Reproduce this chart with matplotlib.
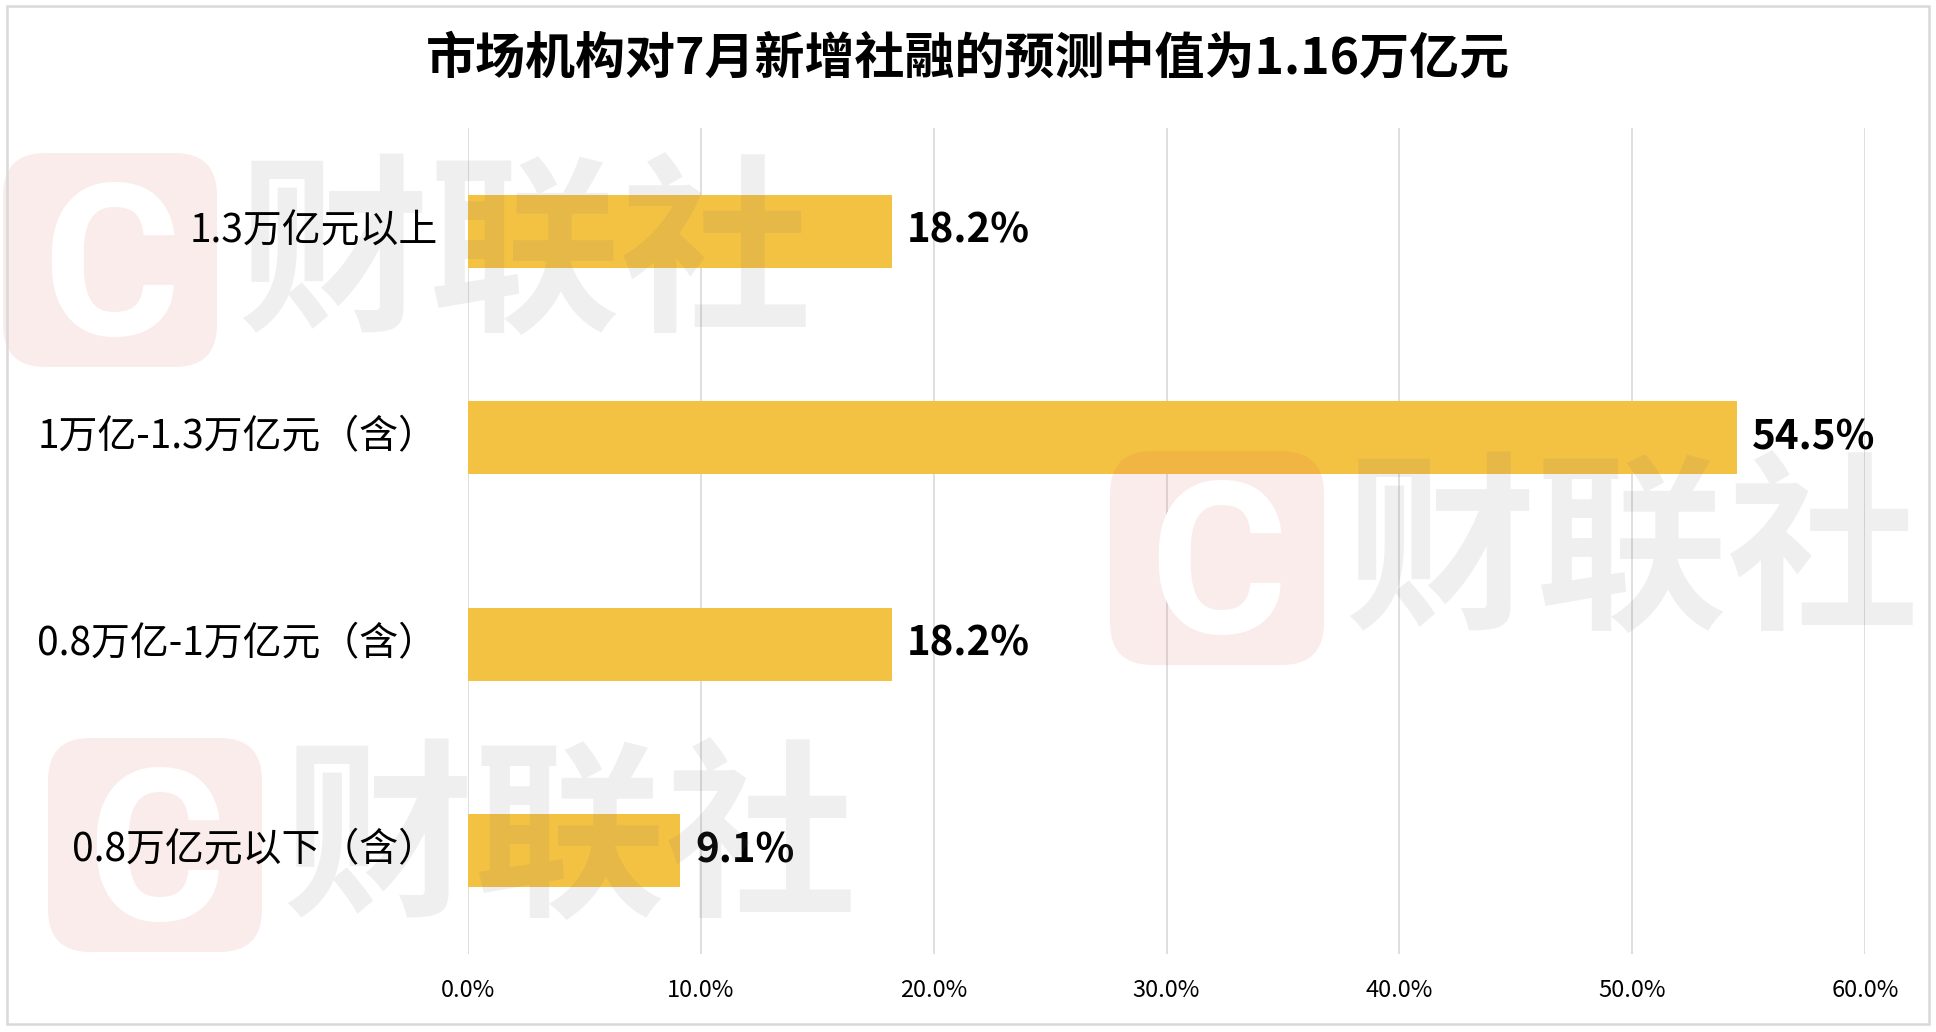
import matplotlib.pyplot as plt
from matplotlib.patches import FancyBboxPatch, Rectangle
from matplotlib.transforms import offset_copy

plt.rcParams['font.family'] = ['Noto Sans CJK SC', 'DejaVu Sans']

# data, top to bottom
categories = ['1.3万亿元以上', '1万亿-1.3万亿元（含）', '0.8万亿-1万亿元（含）', '0.8万亿元以下（含）']
shares = [18.2, 54.5, 18.2, 9.1]
x_ticks = [0, 10, 20, 30, 40, 50, 60]
title = '市场机构对7月新增社融的预测中值为1.16万亿元'

bar_color = '#F4C243'
grid_color = '#D9D9D9'

W, H = 1936, 1032
fig = plt.figure(figsize=(W / 100, H / 100), dpi=100)
fig.patch.set_facecolor('white')

ax = fig.add_axes([468 / W, 1 - 954 / H, (1865 - 468) / W, (954 - 128) / H])
ypos = list(range(len(categories)))
ax.barh(ypos, shares, height=0.354, color=bar_color, zorder=2)
ax.set_ylim(len(categories) - 0.5, -0.5)
ax.set_xlim(0, 60)

ax.set_xticks(x_ticks)
ax.set_xticklabels([f'{t:.1f}%' for t in x_ticks], fontsize=17)
ax.set_yticks(ypos)
ax.set_yticklabels([])
ax.tick_params(axis='x', length=0, pad=18)
ax.tick_params(axis='y', length=0)
ax.xaxis.grid(True, color=grid_color, linewidth=1.2, zorder=0)
ax.set_axisbelow(True)
for s in ax.spines.values():
    s.set_visible(False)

for y, v in zip(ypos, shares):
    ax.annotate(f'{v:.1f}%', (v, y), xytext=(11, 0), textcoords='offset points',
                ha='left', va='center', fontsize=29, fontweight='bold')

fig.text(0.5, 1 - 59 / H, title, ha='center', va='center', fontsize=36, fontweight='bold')

# watermark layer in pixel coordinates
wm = fig.add_axes([0, 0, 1, 1], zorder=5)
wm.set_xlim(0, W)
wm.set_ylim(H, 0)
wm.axis('off')

for (x0, y0) in [(3, 153), (1110, 451), (48, 738)]:
    wm.add_patch(FancyBboxPatch((x0, y0), 214, 214, boxstyle='round,pad=0,rounding_size=42',
                                facecolor='#E04848', edgecolor='none', alpha=0.1))
    wm.text(x0 + 108, y0 + 182, 'C', ha='center', va='baseline', fontsize=152,
            fontweight='bold', color='white', family=['Roboto', 'DejaVu Sans'])
    wm.text(x0 + 522, y0 + 107, '财联社', ha='center', va='center', fontsize=138,
            fontweight='black', color='#6E6E6E', alpha=0.11)

wm.add_patch(Rectangle((7, 6), 1922, 1018, fill=False, edgecolor=grid_color,
                       linewidth=1.8, clip_on=False))

# category labels above the watermark layer
label_tr = offset_copy(ax.get_yaxis_transform(), fig=fig, x=-22, y=0, units='points')
for y, name in zip(ypos, categories):
    fig.text(0, y, name, transform=label_tr, ha='right', va='center',
             fontsize=28, zorder=10)

fig.savefig('out.png', dpi=100)
